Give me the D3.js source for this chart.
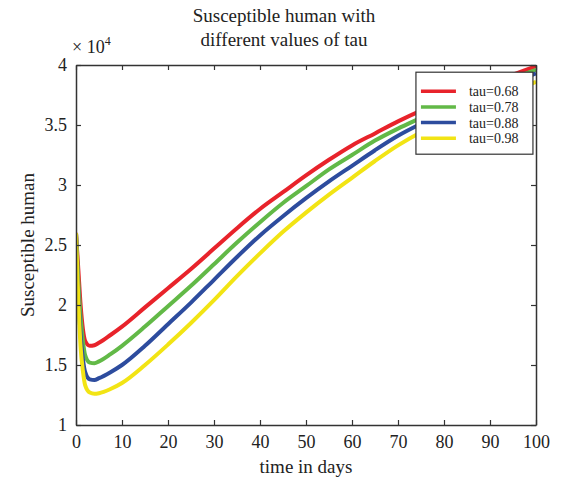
<!DOCTYPE html>
<html>
<head>
<meta charset="utf-8">
<script src="https://cdn.jsdelivr.net/npm/d3@7"></script>
<style>
  body { margin: 0; background: #fff; }
  svg { font-family: "Liberation Serif", "DejaVu Serif", serif; }
</style>
</head>
<body>
<div id="chart"></div>
<script>
// Time grid (days)
const days = [0, 0.5, 1, 1.5, 2, 3, 4, 5, 7.5, 10, 15, 20, 25, 30, 35, 40, 45, 50, 55, 60, 65, 70, 75, 80, 85, 90, 95, 100];

// Susceptible humans (x 10^4) for each tau
const tau068 = [2.6, 2.3, 2.0, 1.8, 1.70, 1.66, 1.665, 1.685, 1.75, 1.82, 1.98, 2.14, 2.30, 2.47, 2.64, 2.80, 2.94, 3.08, 3.21, 3.33, 3.43, 3.53, 3.62, 3.70, 3.78, 3.85, 3.92, 3.99];
const tau078 = [2.6, 2.2, 1.9, 1.7, 1.58, 1.52, 1.515, 1.53, 1.59, 1.66, 1.82, 1.99, 2.16, 2.34, 2.52, 2.69, 2.85, 2.99, 3.13, 3.25, 3.37, 3.47, 3.56, 3.65, 3.73, 3.81, 3.89, 3.96];
const tau088 = [2.6, 2.1, 1.75, 1.55, 1.44, 1.38, 1.375, 1.39, 1.44, 1.50, 1.66, 1.84, 2.02, 2.21, 2.40, 2.58, 2.74, 2.89, 3.03, 3.16, 3.29, 3.41, 3.51, 3.60, 3.68, 3.76, 3.85, 3.93];
const tau098 = [2.6, 2.05, 1.65, 1.45, 1.33, 1.27, 1.26, 1.265, 1.30, 1.35, 1.50, 1.67, 1.85, 2.04, 2.24, 2.43, 2.61, 2.77, 2.92, 3.06, 3.20, 3.33, 3.44, 3.53, 3.62, 3.70, 3.78, 3.86];

const seriesNames = ["tau=0.68", "tau=0.78", "tau=0.88", "tau=0.98"];
const seriesColors = ["#e8232b", "#62b947", "#2d4c9e", "#f2e414"];
const seriesValues = [tau068, tau078, tau088, tau098];

const xTicks = [0, 10, 20, 30, 40, 50, 60, 70, 80, 90, 100];
const yTicks = [1, 1.5, 2, 2.5, 3, 3.5, 4];

const outerWidth = 561, outerHeight = 483;
const margin = { top: 65, right: 25, bottom: 58, left: 76 };
const width = outerWidth - margin.left - margin.right;
const height = outerHeight - margin.top - margin.bottom;

const svg = d3.select("#chart")
  .append("svg")
  .attr("width", outerWidth)
  .attr("height", outerHeight);

const g = svg.append("g")
  .attr("transform", `translate(${margin.left}, ${margin.top})`);

const xScale = d3.scaleLinear().domain([0, 100]).range([0, width]);
const yScale = d3.scaleLinear().domain([1, 4]).range([height, 0]);

// Lines
const line = d3.line()
  .x(function (d, i) { return xScale(days[i]); })
  .y(function (d) { return yScale(d); })
  .curve(d3.curveMonotoneX);

g.append("defs").append("clipPath").attr("id", "clip")
  .append("rect").attr("width", width).attr("height", height);

seriesValues.forEach(function (vals, i) {
  g.append("path")
    .datum(vals)
    .attr("clip-path", "url(#clip)")
    .attr("d", line)
    .attr("fill", "none")
    .attr("stroke", seriesColors[i])
    .attr("stroke-width", 4)
    .attr("stroke-linejoin", "round");
});

// Axes (ticks pointing inward, boxed)
const axisColor = "#333";
const fontSize = "18px";

const xAxis = g.append("g")
  .attr("transform", `translate(0, ${height})`)
  .call(d3.axisBottom(xScale).tickValues(xTicks).tickSize(-5).tickPadding(10).tickSizeOuter(0));
const yAxis = g.append("g")
  .call(d3.axisLeft(yScale).tickValues(yTicks).tickSize(-5).tickPadding(9).tickSizeOuter(0)
    .tickFormat(d3.format("")));
const xTop = g.append("g")
  .call(d3.axisTop(xScale).tickValues(xTicks).tickSize(-5).tickFormat("").tickSizeOuter(0));
const yRight = g.append("g")
  .attr("transform", `translate(${width}, 0)`)
  .call(d3.axisRight(yScale).tickValues(yTicks).tickSize(-5).tickFormat("").tickSizeOuter(0));

[xAxis, yAxis, xTop, yRight].forEach(function (a) {
  a.select(".domain").attr("stroke", axisColor).attr("stroke-width", 1.5);
  a.selectAll(".tick line").attr("stroke", axisColor).attr("stroke-width", 1.2);
  a.selectAll("text")
    .attr("fill", "#222")
    .style("font-family", "Liberation Serif, serif")
    .style("font-size", fontSize);
});

// Exponent label
g.append("text")
  .attr("x", -4)
  .attr("y", -12)
  .attr("fill", "#222")
  .style("font-size", "18px")
  .text("× 10")
  .append("tspan")
  .attr("dy", -8)
  .style("font-size", "12px")
  .text("4");

// Legend
const legend = g.append("g")
  .attr("transform", `translate(${xScale(73.9)}, ${yScale(3.94)})`);

legend.append("rect")
  .attr("width", 117)
  .attr("height", 82)
  .attr("fill", "#fff")
  .attr("stroke", axisColor)
  .attr("stroke-width", 1.2);

seriesNames.forEach(function (name, i) {
  const y = 19 + i * 15.7;
  legend.append("line")
    .attr("x1", 5).attr("x2", 40)
    .attr("y1", y).attr("y2", y)
    .attr("stroke", seriesColors[i])
    .attr("stroke-width", 3.5);
  legend.append("text")
    .attr("x", 53)
    .attr("y", y + 5)
    .attr("fill", "#222")
    .style("font-size", "14px")
    .text(name);
});

// Title
const title = svg.append("text")
  .attr("text-anchor", "middle")
  .attr("fill", "#222")
  .style("font-size", "19px");
title.append("tspan").attr("x", 284).attr("y", 22).text("Susceptible human with");
title.append("tspan").attr("x", 284).attr("y", 46).text("different values of tau");

// Axis labels
svg.append("text")
  .attr("x", margin.left + width / 2)
  .attr("y", 473)
  .attr("text-anchor", "middle")
  .attr("fill", "#222")
  .style("font-size", "19px")
  .text("time in days");

svg.append("text")
  .attr("transform", `translate(34, ${margin.top + height / 2}) rotate(-90)`)
  .attr("text-anchor", "middle")
  .attr("fill", "#222")
  .style("font-size", "19px")
  .text("Susceptible human");
</script>
</body>
</html>
